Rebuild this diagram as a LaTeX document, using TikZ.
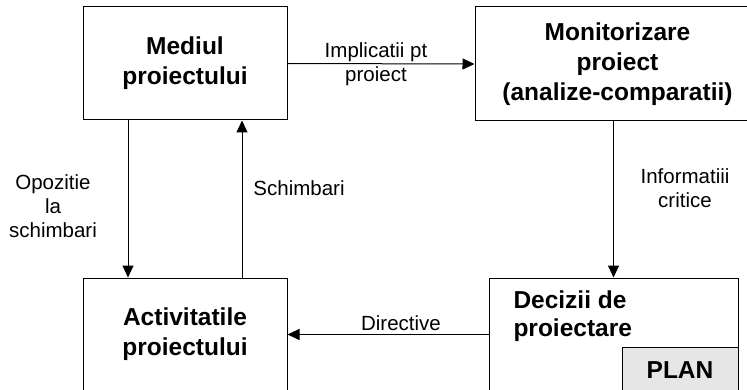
\documentclass[tikz,border=0pt]{standalone}
\usepackage{fontspec}
\setmainfont{Liberation Sans}
\usetikzlibrary{arrows.meta}
\definecolor{planfill}{HTML}{E6E6E6}
\begin{document}
\begin{tikzpicture}[x=1pt,y=-1pt,
  box/.style={draw=black,line width=1pt,rectangle,align=center,
    font=\fontsize{24.5}{30}\selectfont\bfseries,inner sep=0pt},
  lbl/.style={align=center,font=\fontsize{20.5}{24}\selectfont,inner sep=0pt},
  arr/.style={draw=black,line width=1pt,-{Triangle[length=12pt,width=11pt]}}]
\useasboundingbox (0,0) rectangle (747,390);
\clip (0,0) rectangle (747,390);
\fill[white] (0,0) rectangle (747,390);

% the four blocks
\node[box,minimum width=204pt,minimum height=113pt] (mediul) at (185,63.5)
  {Mediul\\proiectului};
\node[box,minimum width=285pt,minimum height=114pt] (monitor) at (617.5,64)
  {Monitorizare\\proiect\\(analize-comparatii)};
\node[box,minimum width=204pt,minimum height=113pt] (activ) at (185,334.5)
  {Activitatile\\proiectului};
\node[box,minimum width=249pt,minimum height=113pt] (decizii) at (613.5,334.5) {};
\node[box,anchor=north west,align=left,font=\fontsize{24.5}{28.5}\selectfont\bfseries,draw=none]
  (dtext) at (513,290) {Decizii de\\proiectare};
\node[box,fill=planfill,minimum width=116pt,minimum height=46pt] (plan) at (680,370)
  {PLAN};

% connectors
\draw[arr] (mediul.east) -- (monitor.west)
  node[lbl,midway,xshift=-5pt] (limpl) {Implicatii pt\\proiect};
\draw[arr] ([xshift=-57pt]mediul.south) -- ([xshift=-57pt]activ.north);
\draw[arr] ([xshift=57pt]activ.north) -- ([xshift=57pt]mediul.south);
\draw[arr] (monitor.south -| decizii.north) -- (decizii.north);
\draw[arr] (decizii.west) -- (activ.east);

% connector labels
\node[lbl] (lopoz) at (53,206) {Opozitie\\la\\schimbari};
\node[lbl] (lschimb) at (299,188) {Schimbari};
\node[lbl] (linfo) at (685,188) {Informatiii\\critice};
\node[lbl] (ldir) at (401,323) {Directive};
\end{tikzpicture}
\end{document}
